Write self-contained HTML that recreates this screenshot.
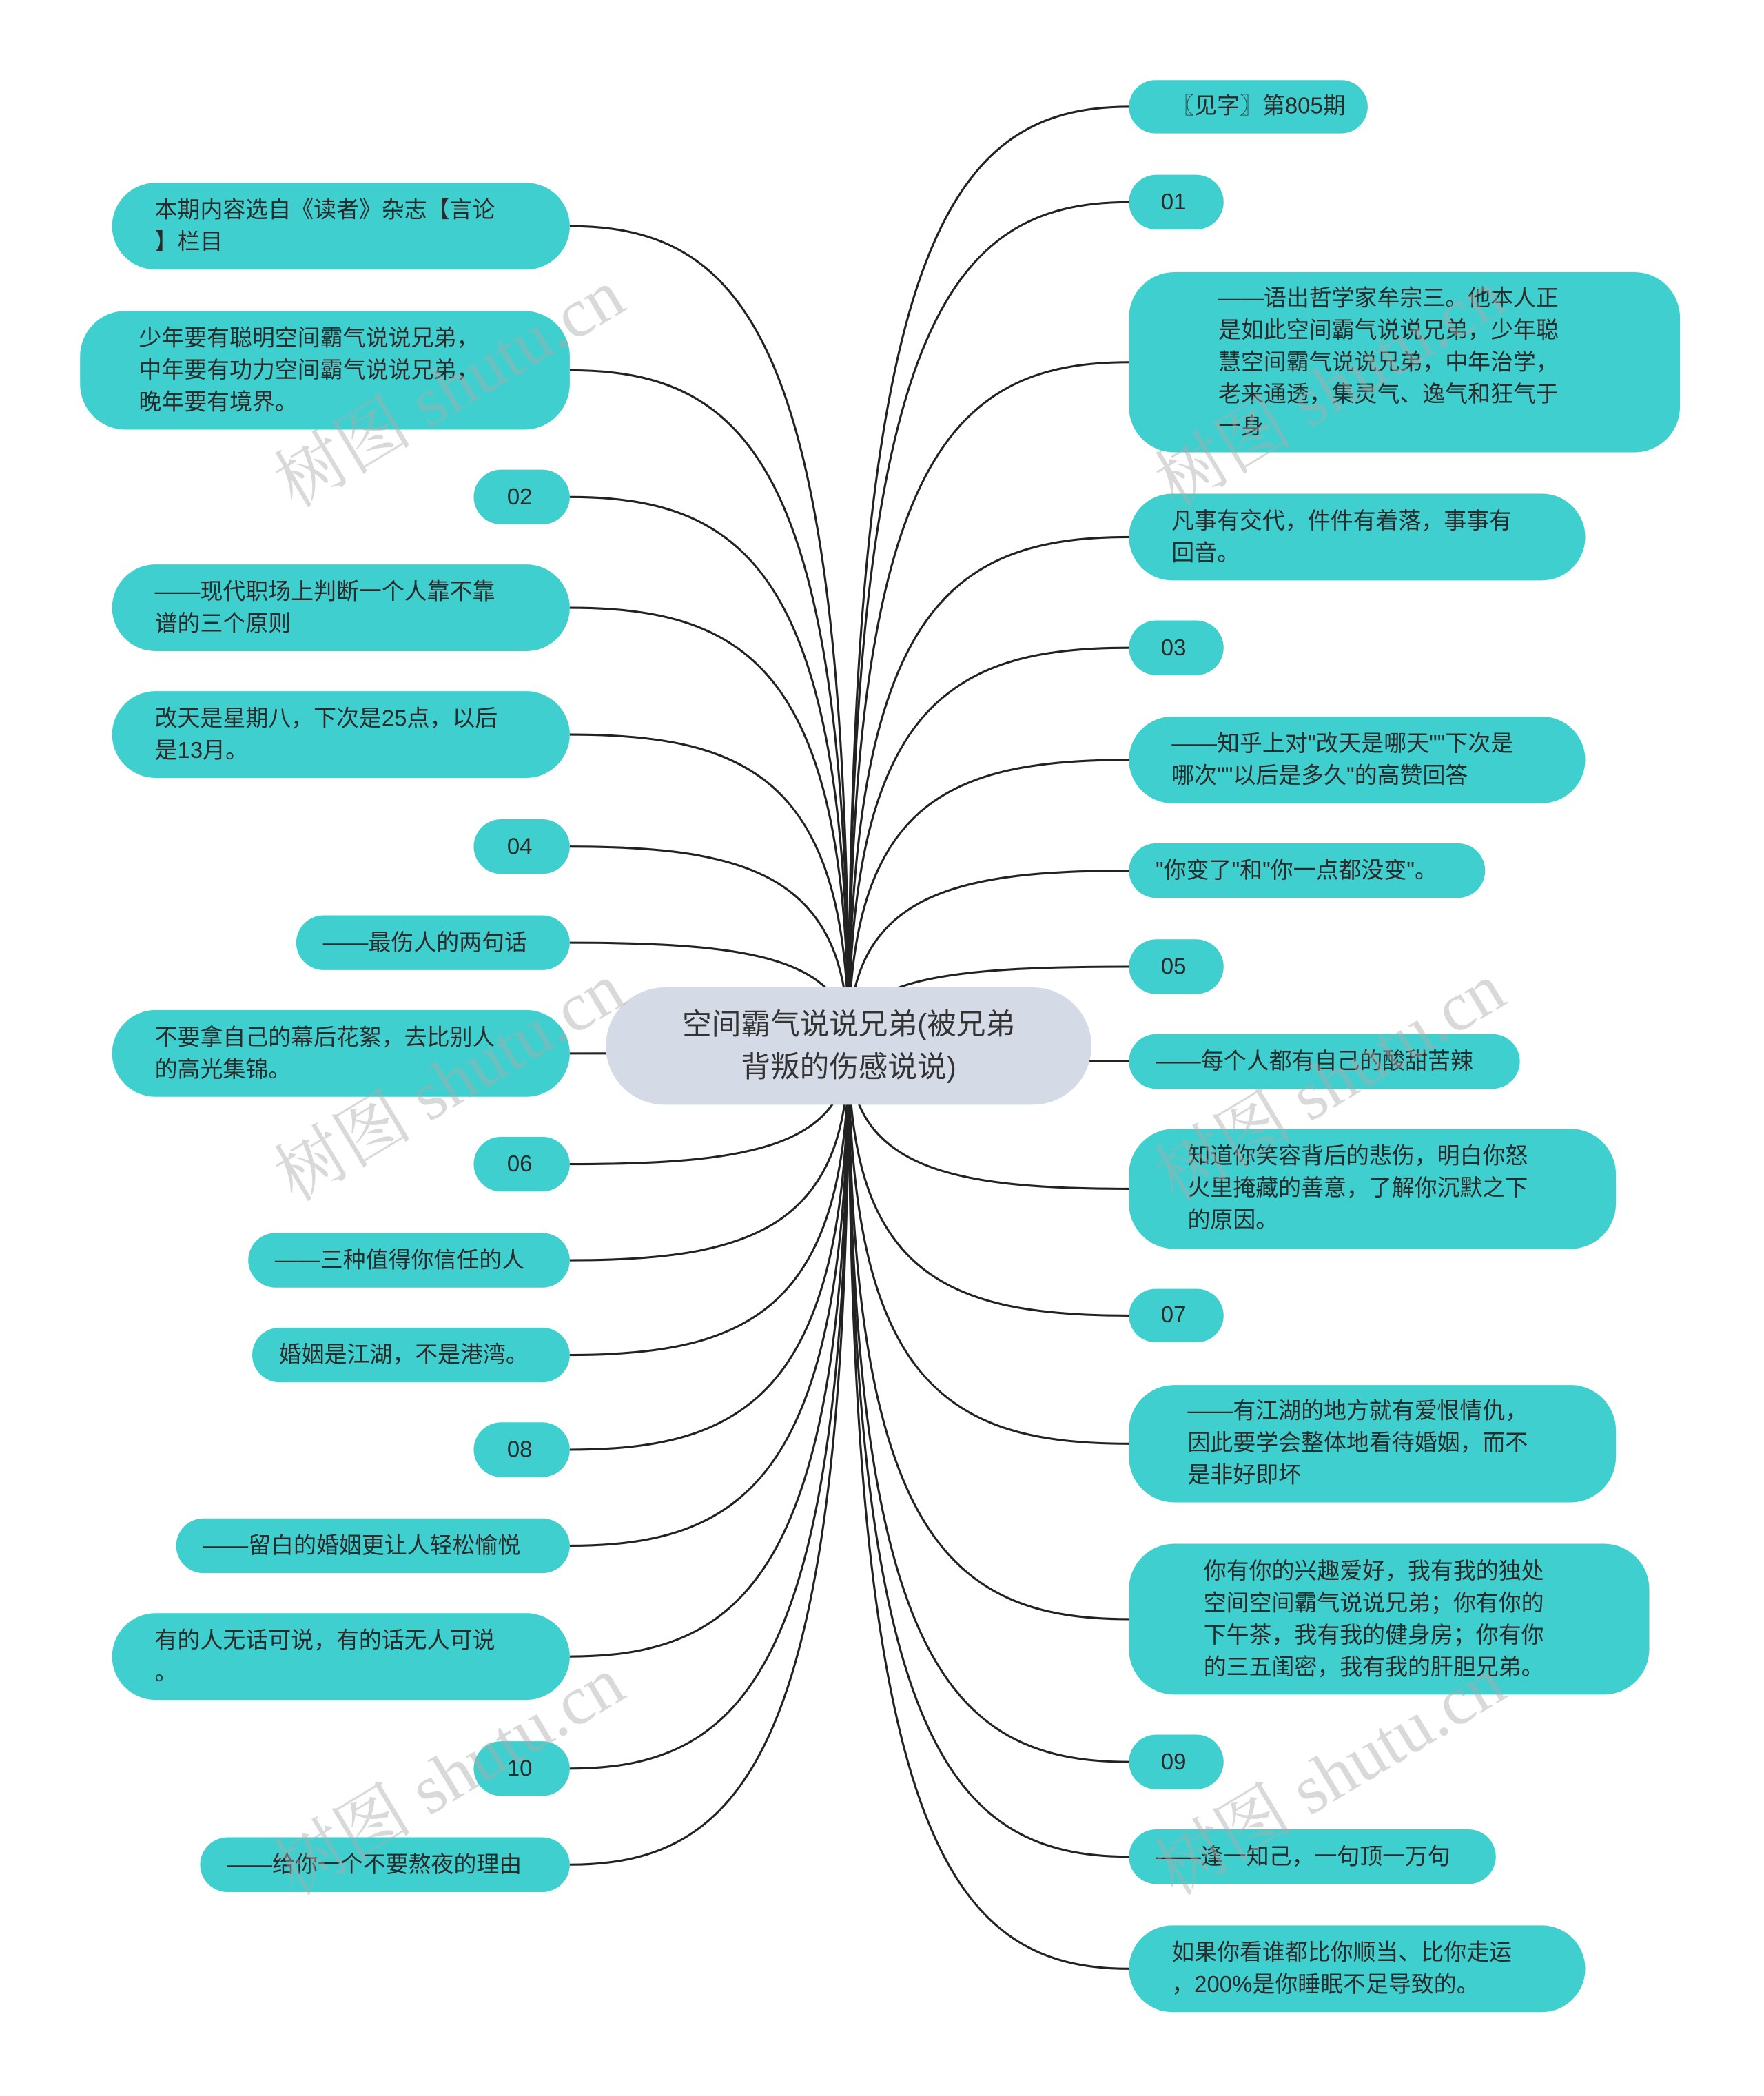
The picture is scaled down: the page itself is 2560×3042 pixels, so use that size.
<!DOCTYPE html>
<html><head><meta charset="utf-8"><style>
html,body{margin:0;padding:0;background:#fff;}
#wrap{width:2560px;height:3042px;overflow:hidden;position:relative;}
#s{position:absolute;left:0;top:0;width:1322px;height:1571px;transform:scale(1.9365);transform-origin:0 0;}
.n{position:absolute;background:#40cfcf;border-radius:22px;color:#2b2b2b;font-family:"Liberation Sans","Noto Sans CJK SC",sans-serif;font-size:17px;line-height:24px;box-sizing:border-box;display:flex;align-items:center;white-space:nowrap;}
.n span{display:block}
.c{background:#d5dbe6;border-radius:44px;font-size:22px;line-height:32px;justify-content:center;text-align:center;color:#333}
svg{position:absolute;left:0;top:0}
.w{position:absolute;font-family:"Liberation Serif","Noto Serif CJK SC",serif;font-size:52px;color:rgba(170,170,170,0.45);white-space:nowrap;transform:rotate(-31deg);transform-origin:0 0;}
</style></head><body><div id="wrap"><div id="s">
<svg width="1322" height="1571" id="lines"></svg>
<div id="nodes"></div>
<div class="w" style="left:190px;top:330px">树图 shutu.cn</div>
<div class="w" style="left:850px;top:330px">树图 shutu.cn</div>
<div class="w" style="left:190px;top:850px">树图 shutu.cn</div>
<div class="w" style="left:850px;top:850px">树图 shutu.cn</div>
<div class="w" style="left:190px;top:1370px">树图 shutu.cn</div>
<div class="w" style="left:850px;top:1370px">树图 shutu.cn</div>
</div></div>
<script>
var R=[
[60,100,1025,"〖见字〗第805期",878],
[131,172,917,"01",870],
[204,339,1259,"——语出哲学家牟宗三。他本人正<br>是如此空间霸气说说兄弟，少年聪<br>慧空间霸气说说兄弟，中年治学，<br>老来通透，集灵气、逸气和狂气于<br>一身",913],
[370,435,1188,"凡事有交代，件件有着落，事事有<br>回音。",878],
[465,506,917,"03",870],
[537,602,1188,"——知乎上对\"改天是哪天\"\"下次是<br>哪次\"\"以后是多久\"的高赞回答",878],
[632,673,1113,"\"你变了\"和\"你一点都没变\"。",866],
[704,745,917,"05",870],
[775,816,1139,"——每个人都有自己的酸甜苦辣",866],
[846,936,1211,"知道你笑容背后的悲伤，明白你怒<br>火里掩藏的善意，了解你沉默之下<br>的原因。",890],
[966,1006,917,"07",870],
[1038,1126,1211,"——有江湖的地方就有爱恨情仇，<br>因此要学会整体地看待婚姻，而不<br>是非好即坏",890],
[1157,1270,1236,"你有你的兴趣爱好，我有我的独处<br>空间空间霸气说说兄弟；你有你的<br>下午茶，我有我的健身房；你有你<br>的三五闺密，我有我的肝胆兄弟。",902],
[1300,1341,917,"09",870],
[1371,1412,1121,"——逢一知己，一句顶一万句",866],
[1443,1508,1188,"如果你看谁都比你顺当、比你走运<br>，200%是你睡眠不足导致的。",878]
];
var L=[
[137,202,84,"本期内容选自《读者》杂志【言论<br>】栏目",116],
[233,322,60,"少年要有聪明空间霸气说说兄弟，<br>中年要有功力空间霸气说说兄弟，<br>晚年要有境界。",104],
[352,393,355,"02",380],
[423,488,84,"——现代职场上判断一个人靠不靠<br>谱的三个原则",116],
[518,583,84,"改天是星期八，下次是25点，以后<br>是13月。",116],
[614,655,355,"04",380],
[686,727,222,"——最伤人的两句话",242],
[757,822,84,"不要拿自己的幕后花絮，去比别人<br>的高光集锦。",116],
[852,893,355,"06",380],
[924,965,186,"——三种值得你信任的人",206],
[995,1036,189,"婚姻是江湖，不是港湾。",209],
[1066,1107,355,"08",380],
[1138,1179,132,"——留白的婚姻更让人轻松愉悦",152],
[1209,1274,84,"有的人无话可说，有的话无人可说<br>。",116],
[1305,1346,355,"10",380],
[1377,1418,150,"——给你一个不要熬夜的理由",170]
];
var cx=636,cy=784,p="",h="";
function add(y1,y2,x1,x2,t,tx){var ny=(y1+y2)/2,ex=(x1<cx)?x2:x1;
p+='<path d="M'+cx+','+cy+' C'+cx+','+(cy+(ny-cy)*0.85)+' '+(cx+(ex-cx)*0.35)+','+ny+' '+ex+','+ny+'" fill="none" stroke="#222" stroke-width="1.6"/>';
h+='<div class="n" style="left:'+x1+'px;top:'+y1+'px;width:'+(x2-x1)+'px;height:'+(y2-y1)+'px;padding-left:'+(tx-x1)+'px;border-radius:'+Math.min(34,(y2-y1)/2)+'px"><span>'+t+'</span></div>';}
R.forEach(function(r){add(r[0],r[1],846,r[2],r[3],r[4]);});
L.forEach(function(r){add(r[0],r[1],r[2],427,r[3],r[4]);});
h+='<div class="n c" style="left:454px;top:740px;width:364px;height:88px"><span>空间霸气说说兄弟(被兄弟<br>背叛的伤感说说)</span></div>';
document.getElementById('lines').innerHTML=p;
document.getElementById('nodes').innerHTML=h;
</script>
</body></html>
